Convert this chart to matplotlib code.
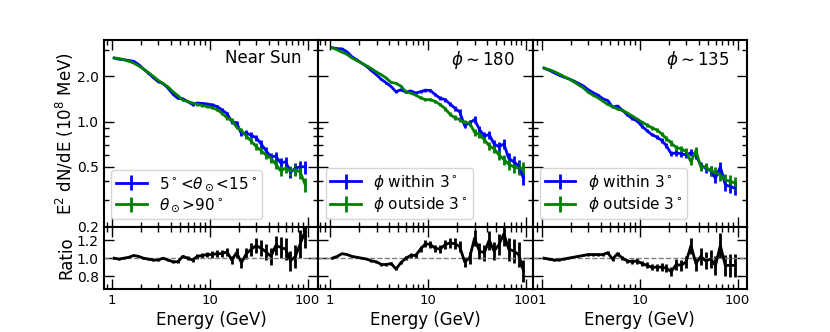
import numpy as np
import matplotlib
matplotlib.use('Agg')
import matplotlib.pyplot as plt
from matplotlib.ticker import FixedLocator, FixedFormatter, FormatStrFormatter, LogLocator, NullFormatter

# -----------------------------
# Data
# -----------------------------
energy = [1.06, 1.19, 1.33, 1.50, 1.68, 1.88, 2.11, 2.37, 2.66, 2.99,
          3.35, 3.76, 4.22, 4.73, 5.31, 5.96, 6.68, 7.50, 8.41, 9.44,
          10.6, 11.9, 13.3, 15.0, 16.8, 18.8, 21.1, 23.7, 26.6, 29.9,
          33.5, 37.6, 42.2, 47.3, 53.1, 59.6, 66.8, 75.0, 84.1, 94.4]

# relative errors of the spectra
rel_err = [0.004, 0.004, 0.005, 0.005, 0.005, 0.006, 0.006, 0.007, 0.007, 0.008,
           0.009, 0.010, 0.011, 0.012, 0.013, 0.014, 0.016, 0.018, 0.020, 0.022,
           0.024, 0.026, 0.028, 0.031, 0.034, 0.037, 0.040, 0.043, 0.047, 0.051,
           0.055, 0.059, 0.063, 0.068, 0.073, 0.078, 0.083, 0.089, 0.095, 0.100]

# Near Sun
near_in = [2.65, 2.60, 2.58, 2.55, 2.52, 2.40, 2.24, 2.10, 1.96, 1.84,
           1.79, 1.67, 1.52, 1.43, 1.42, 1.36, 1.30, 1.33, 1.32, 1.31,
           1.29, 1.26, 1.20, 1.13, 1.00, 0.98, 0.83, 0.84, 0.81, 0.78,
           0.71, 0.64, 0.58, 0.59, 0.53, 0.54, 0.46, 0.49, 0.50, 0.50]
near_out = [2.65, 2.63, 2.58, 2.52, 2.45, 2.35, 2.24, 2.12, 2.00, 1.88,
            1.79, 1.70, 1.58, 1.49, 1.39, 1.36, 1.33, 1.30, 1.28, 1.26,
            1.24, 1.20, 1.14, 1.06, 1.02, 0.92, 0.87, 0.80, 0.74, 0.68,
            0.64, 0.60, 0.57, 0.52, 0.47, 0.49, 0.47, 0.48, 0.46, 0.38]
near_ratio = [1.00, 0.99, 1.00, 1.01, 1.03, 1.02, 1.00, 0.99, 0.98, 0.98,
              1.00, 0.98, 0.96, 0.96, 1.02, 1.00, 0.98, 1.02, 1.03, 1.04,
              1.04, 1.05, 1.05, 1.07, 0.98, 1.06, 0.95, 1.05, 1.10, 1.14,
              1.11, 1.07, 1.02, 1.14, 1.12, 1.10, 0.97, 1.02, 1.16, 1.30]

# phi ~ 180
p180_in = [3.10, 3.06, 3.05, 2.91, 2.70, 2.58, 2.45, 2.33, 2.18, 2.05,
           1.91, 1.81, 1.71, 1.58, 1.63, 1.57, 1.60, 1.55, 1.58, 1.62,
           1.61, 1.51, 1.43, 1.40, 1.31, 1.23, 1.16, 0.94, 0.98, 1.03,
           0.89, 0.80, 0.82, 0.71, 0.68, 0.71, 0.57, 0.54, 0.51, 0.42]
p180_out = [3.10, 3.00, 2.90, 2.80, 2.65, 2.55, 2.45, 2.35, 2.25, 2.14,
            2.05, 1.95, 1.82, 1.80, 1.72, 1.58, 1.55, 1.50, 1.44, 1.40,
            1.40, 1.36, 1.30, 1.22, 1.12, 1.06, 1.03, 0.98, 0.98, 0.85,
            0.82, 0.76, 0.69, 0.66, 0.60, 0.56, 0.52, 0.50, 0.49, 0.49]
p180_ratio = [1.00, 1.02, 1.05, 1.04, 1.02, 1.01, 1.00, 0.99, 0.97, 0.96,
              0.93, 0.93, 0.94, 0.88, 0.95, 1.00, 1.03, 1.03, 1.10, 1.16,
              1.15, 1.11, 1.10, 1.15, 1.17, 1.16, 1.13, 0.96, 1.00, 1.22,
              1.08, 1.06, 1.20, 1.08, 1.15, 1.27, 1.10, 1.08, 1.04, 0.86]

# phi ~ 135
p135_in = [2.27, 2.20, 2.12, 2.04, 1.98, 1.93, 1.87, 1.80, 1.73, 1.63,
           1.56, 1.50, 1.42, 1.38, 1.25, 1.27, 1.19, 1.11, 1.05, 1.01,
           0.93, 0.87, 0.82, 0.79, 0.75, 0.69, 0.61, 0.62, 0.61, 0.60,
           0.62, 0.60, 0.51, 0.49, 0.47, 0.42, 0.50, 0.38, 0.37, 0.36]
p135_out = [2.27, 2.22, 2.16, 2.08, 2.00, 1.93, 1.85, 1.76, 1.68, 1.57,
            1.50, 1.44, 1.37, 1.30, 1.26, 1.21, 1.19, 1.14, 1.09, 1.04,
            0.99, 0.95, 0.91, 0.88, 0.83, 0.77, 0.72, 0.67, 0.66, 0.63,
            0.54, 0.64, 0.50, 0.50, 0.47, 0.46, 0.44, 0.41, 0.40, 0.39]
p135_ratio = [1.00, 0.99, 0.98, 0.98, 0.99, 1.00, 1.01, 1.02, 1.03, 1.04,
              1.04, 1.04, 1.04, 1.06, 0.99, 1.05, 1.00, 0.97, 0.96, 0.97,
              0.94, 0.92, 0.90, 0.90, 0.90, 0.89, 0.85, 0.93, 0.92, 0.96,
              1.14, 0.94, 1.02, 0.97, 0.99, 0.92, 1.14, 0.92, 0.92, 0.92]

panels = [
    ("Near Sun", near_in, near_out, near_ratio,
     r"5$^\circ$<$\theta_\odot$<15$^\circ$", r"$\theta_\odot$>90$^\circ$", (0.83, 128)),
    (r"$\phi\sim180$", p180_in, p180_out, p180_ratio,
     r"$\phi$ within 3$^\circ$", r"$\phi$ outside 3$^\circ$", (0.76, 117)),
    (r"$\phi\sim135$", p135_in, p135_out, p135_ratio,
     r"$\phi$ within 3$^\circ$", r"$\phi$ outside 3$^\circ$", (0.81, 125)),
]


def style_axis(ax):
    ax.set_xscale('log')
    ax.xaxis.set_major_locator(FixedLocator([1, 10, 100]))
    ax.xaxis.set_major_formatter(FixedFormatter(['1', '10', '100']))
    ax.xaxis.set_minor_locator(LogLocator(subs=np.arange(2, 10)))
    ax.xaxis.set_minor_formatter(NullFormatter())
    ax.tick_params(which='both', direction='in', top=True, right=True)
    ax.tick_params(axis='x', labelsize=9.5)
    ax.tick_params(axis='y', labelsize=10)
    ax.tick_params(which='major', length=7, width=1)
    ax.tick_params(which='minor', length=3.5, width=1)
    for s in ax.spines.values():
        s.set_linewidth(1.5)


fig = plt.figure(figsize=(8.3, 3.32), dpi=100)
gs = fig.add_gridspec(2, 3, height_ratios=[3, 1], hspace=0, wspace=0,
                      left=0.125, right=0.9, top=0.88, bottom=0.13)

E = np.array(energy)
rel = np.array(rel_err)

for i, (title, s_in, s_out, ratio, lab_in, lab_out, xlim) in enumerate(panels):
    ax = fig.add_subplot(gs[0, i])
    rax = fig.add_subplot(gs[1, i])

    s_in = np.array(s_in)
    s_out = np.array(s_out)
    ratio = np.array(ratio)

    ax.errorbar(E, s_in, yerr=s_in * rel, color='blue', lw=2, elinewidth=2, label=lab_in)
    ax.errorbar(E, s_out, yerr=s_out * rel, color='green', lw=2, elinewidth=2, label=lab_out)
    style_axis(ax)
    ax.set_yscale('log')
    ax.set_ylim(0.2, 3.5)
    ax.set_xlim(*xlim)
    ax.yaxis.set_major_locator(FixedLocator([0.2, 0.5, 1.0, 2.0]))
    ax.yaxis.set_major_formatter(FormatStrFormatter('%.1f'))
    ax.yaxis.set_minor_locator(LogLocator(subs=np.arange(2, 10)))
    ax.yaxis.set_minor_formatter(NullFormatter())
    ax.tick_params(labelbottom=False)
    ax.text(0.92, 0.95, title, transform=ax.transAxes, ha='right', va='top', fontsize=12)
    ax.legend(loc='lower left', fontsize=11, labelspacing=0.25, borderpad=0.3)

    rax.errorbar(E, ratio, yerr=ratio * rel * 1.41, color='black', lw=2, elinewidth=2)
    rax.axhline(1.0, color='gray', ls='--', lw=1)
    style_axis(rax)
    rax.set_xlim(*xlim)
    rax.set_ylim(0.66, 1.35)
    rax.set_yticks([0.8, 1.0, 1.2])
    rax.yaxis.set_major_formatter(FormatStrFormatter('%.1f'))
    rax.set_xlabel('Energy (GeV)', fontsize=12, labelpad=3)

    if i == 0:
        ax.set_ylabel(r'E$^2$ dN/dE (10$^8$ MeV)', fontsize=12, labelpad=1)
        rax.set_ylabel('Ratio', fontsize=12, labelpad=1)
    else:
        ax.tick_params(labelleft=False)
        rax.tick_params(labelleft=False)

plt.savefig('out.png', dpi=100)
plt.close()
